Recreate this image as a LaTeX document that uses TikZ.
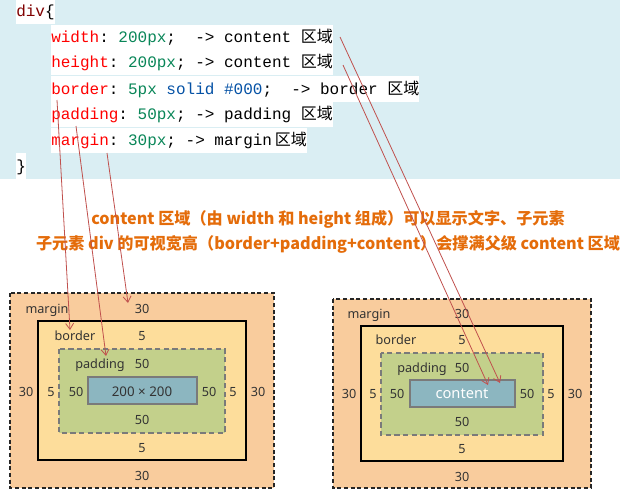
\documentclass[tikz,border=0pt]{standalone}
\usepackage{fontspec}
\setmainfont{Noto Sans}
\newfontfamily\cjk{Noto Sans CJK SC}
\newfontfamily\codefont{Liberation Mono}
\usetikzlibrary{arrows.meta}

\definecolor{bgblue}{HTML}{DAEEF3}
\definecolor{kwred}{HTML}{FF0000}
\definecolor{valgreen}{HTML}{098658}
\definecolor{valblue}{HTML}{0451A5}
\definecolor{selred}{HTML}{800000}
\definecolor{noteorange}{HTML}{E46C0A}
\definecolor{pointred}{HTML}{C0504D}
\definecolor{marginfill}{HTML}{F9CC9D}
\definecolor{borderfill}{HTML}{FDDD9B}
\definecolor{paddingfill}{HTML}{C3D08B}
\definecolor{contentfill}{HTML}{8CB6C0}
\definecolor{boxgray}{HTML}{7A7A7A}
\definecolor{labelgray}{HTML}{333333}

\newcommand{\quyu}{{\cjk 区域}}

\tikzset{
  codeline/.style={anchor=west, fill=white, inner xsep=0pt, inner ysep=0.4pt,
    text height=13pt, text depth=5pt, font=\codefont\fontsize{12}{14}\selectfont\frenchspacing},
  note/.style={text=noteorange, font=\cjk\bfseries\fontsize{12.1}{14}\selectfont},
  lbl/.style={anchor=base, inner sep=0pt, text=labelgray, font=\fontsize{9.5}{11}\selectfont},
  marginbox/.style={fill=marginfill, draw=black!85, line width=1.1pt, dash pattern=on 3pt off 2pt},
  borderbox/.style={fill=borderfill, draw=black, line width=1.5pt},
  paddingbox/.style={fill=paddingfill, draw=boxgray, line width=1.1pt, dash pattern=on 4pt off 2.5pt},
  contentbox/.style={fill=contentfill, draw=boxgray, line width=1.5pt},
  pointer/.style={draw=pointred, line width=0.6pt, -{Straight Barb[length=4.5pt,width=6pt]}}
}

\begin{document}
\begin{tikzpicture}[x=0.75pt, y=-0.75pt]
  \useasboundingbox (0,0) rectangle (620,496);

  % Fondo del código
  \fill[bgblue] (0,0) rectangle (620,179);

  % Líneas de código
  \node[codeline] (cDiv) at (16,11) {\textcolor{selred}{div}\{};
  \node[codeline] (cWidth) at (51,37.5) {\textcolor{kwred}{width}: \textcolor{valgreen}{200px};~~-> content \quyu};
  \node[codeline] (cHeight) at (51,62) {\textcolor{kwred}{height}: \textcolor{valgreen}{200px}; -> content \quyu};
  \node[codeline] (cBorder) at (51,89) {\textcolor{kwred}{border}: \textcolor{valgreen}{5px} \textcolor{valblue}{solid \#000};~~-> border \quyu};
  \node[codeline] (cPadding) at (51,114.5) {\textcolor{kwred}{padding}: \textcolor{valgreen}{50px}; -> padding \quyu};
  \node[codeline] (cMargin) at (51,140.5) {\textcolor{kwred}{margin}: \textcolor{valgreen}{30px}; -> margin\,\quyu};
  \node[codeline] (cEnd) at (16,166) {\}};

  % Notas
  \node[note] (nota1) at (328,219) {content 区域（由 width 和 height 组成）可以显示文字、子元素};
  \node[note] (nota2) at (328,244) {子元素 div 的可视宽高（border+padding+content）会撑满父级 content 区域};

  % Caja izquierda
  \draw[marginbox] (10,293) rectangle (274,488);
  \draw[borderbox] (38,321) rectangle (246,460);
  \draw[paddingbox] (59,349) rectangle (225,433);
  \draw[contentbox] (88,377) rectangle (197,404);
  \foreach \x/\y/\t [count=\i] in {47/313/margin, 142/313/30, 75/340/border, 142/340/5,
      100/368/padding, 142/368/50, 26/396/30, 51/396/5, 76/396/50, 209/396/50,
      233/396/5, 258/396/30, 142/424/50, 142/452/5, 142/480/30} {
    \node[lbl] (izq\i) at (\x,\y) {\t}; % etiquetas
  }
  \node[lbl, font=\fontsize{10}{12}\selectfont] (dim) at (142,396) {200 × 200};

  % Caja derecha
  \draw[marginbox] (333,299) rectangle (591,488);
  \draw[borderbox] (361,326) rectangle (563,461);
  \draw[paddingbox] (381,353) rectangle (543,435);
  \draw[contentbox] (410,380) rectangle (515,407);
  \foreach \x/\y/\t [count=\i] in {369/318/margin, 462/318/30, 396/344/border, 462/344/5,
      422/372/padding, 462/372/50, 349/398/30, 373/398/5, 397/398/50, 527/398/50,
      551/398/5, 575/398/30, 462/426/50, 462/453/5, 462/481/30} {
    \node[lbl] (der\i) at (\x,\y) {\t}; % etiquetas
  }
  \node[lbl, text=white, font=\fontsize{11}{13}\selectfont] (contenido) at (462,398) {content};

  % Puntos de las flechas
  \coordinate (wIni) at (340,37);
  \coordinate (hIni) at (343,65);
  \coordinate (bIni) at (57,100);
  \coordinate (pIni) at (76,126);
  \coordinate (mIni) at (107,153);
  \coordinate (wFin) at (500,383);
  \coordinate (hFin) at (488,385);
  \coordinate (bFin) at (70,330);
  \coordinate (pFin) at (106,356);
  \coordinate (mFin) at (128,303);

  % Flechas
  \draw[pointer] (wIni) -- (wFin);
  \draw[pointer] (hIni) -- (hFin);
  \draw[pointer] (bIni) -- (bFin);
  \draw[pointer] (pIni) -- (pFin);
  \draw[pointer] (mIni) -- (mFin);
\end{tikzpicture}
\end{document}
